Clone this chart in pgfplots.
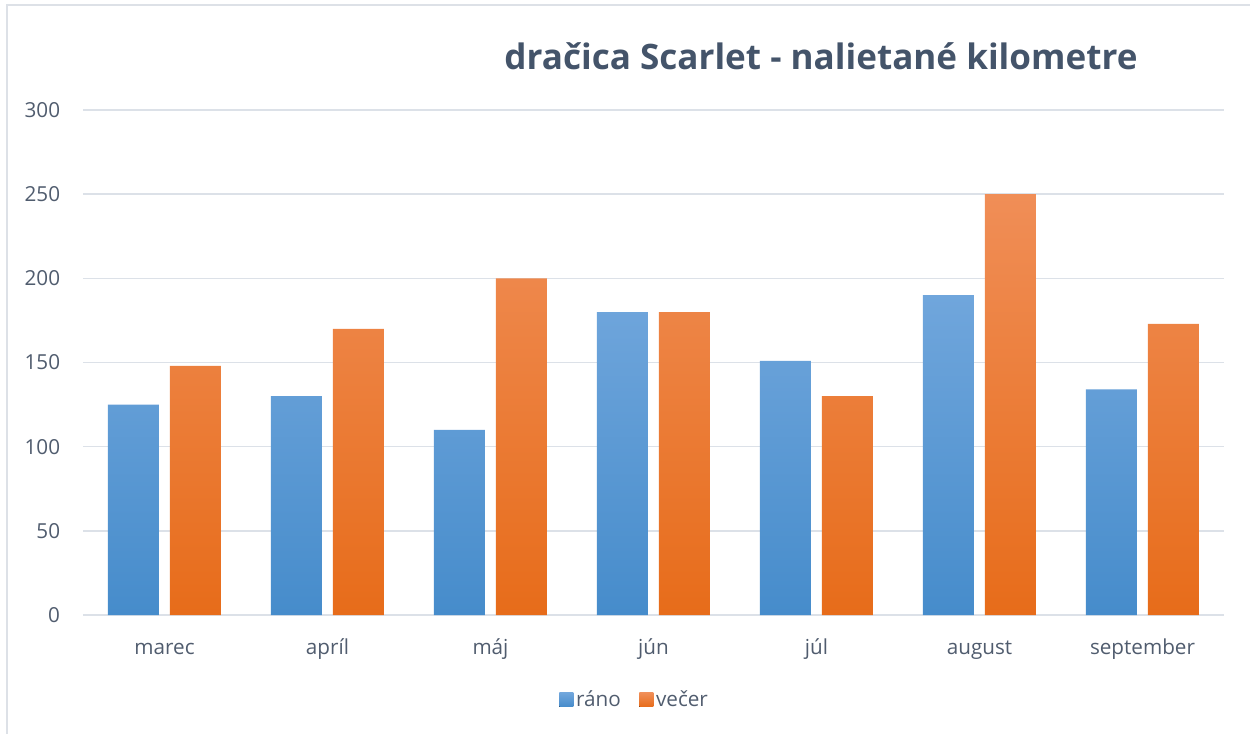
\documentclass[border=0pt]{standalone}
\usepackage{pgfplots}
\pgfplotsset{compat=1.18}
\usepackage{fontspec}
\setmainfont{Open Sans}
\definecolor{txt}{HTML}{505C6E}
\definecolor{ttl}{HTML}{44546A}
\definecolor{gridc}{HTML}{DCE1E8}
\definecolor{bord}{HTML}{DDE1E7}
\definecolor{btop}{HTML}{70A6DC}
\definecolor{bbot}{HTML}{468CCB}
\definecolor{otop}{HTML}{F08E57}
\definecolor{obot}{HTML}{E76C1A}
\begin{document}
\begin{tikzpicture}[x=0.75pt,y=0.75pt]
\useasboundingbox (-83,-118) rectangle (1167,615);
\draw[bord, line width=1.5pt] (-76,-130) -- (-76,610) -- (1180,610);
\begin{axis}[
  at={(0,0)}, anchor=south west, scale only axis,
  width=855.75pt, height=378.75pt,
  xmin=-0.5, xmax=6.5, ymin=0, ymax=300,
  ytick={0,50,...,300},
  xtick={0,...,6},
  xticklabels={marec,apríl,máj,jún,júl,august,september},
  ymajorgrids, grid style={gridc, line width=1.2pt},
  axis line style={draw=none},
  major tick length=0pt,
  ybar=8.25pt, bar width=38.25pt,
  /pgf/number format/assume math mode=true,
  tick label style={font=\fontsize{15.5}{18}\selectfont, text=txt},
  yticklabel style={anchor=east, inner sep=0pt, xshift=-17pt},
  xticklabel style={anchor=base, inner sep=0pt, yshift=-29.25pt},
  legend style={at={(0.4838,-0.168)}, anchor=center, draw=none, fill=none,
    legend columns=-1, font=\fontsize{15.5}{18}\selectfont, text=txt,
    /tikz/every even column/.append style={column sep=12pt}},
]
\addplot[draw=none, top color=btop, bottom color=bbot,
  legend image code/.code={\fill[top color=btop, bottom color=bbot] (0pt,-5.25pt) rectangle (10.5pt,5.25pt);}]
  coordinates {(0,125) (1,130) (2,110) (3,180) (4,151) (5,190) (6,134)};
\addplot[draw=none, top color=otop, bottom color=obot,
  legend image code/.code={\fill[top color=otop, bottom color=obot] (0pt,-5.25pt) rectangle (10.5pt,5.25pt);}]
  coordinates {(0,148) (1,170) (2,200) (3,180) (4,130) (5,250) (6,173)};
\legend{ráno,večer}
\end{axis}
\node[font=\bfseries\fontsize{26.3}{30}\selectfont, text=ttl, anchor=base] at (738,545) {dračica Scarlet - nalietané kilometre};
\end{tikzpicture}
\end{document}
